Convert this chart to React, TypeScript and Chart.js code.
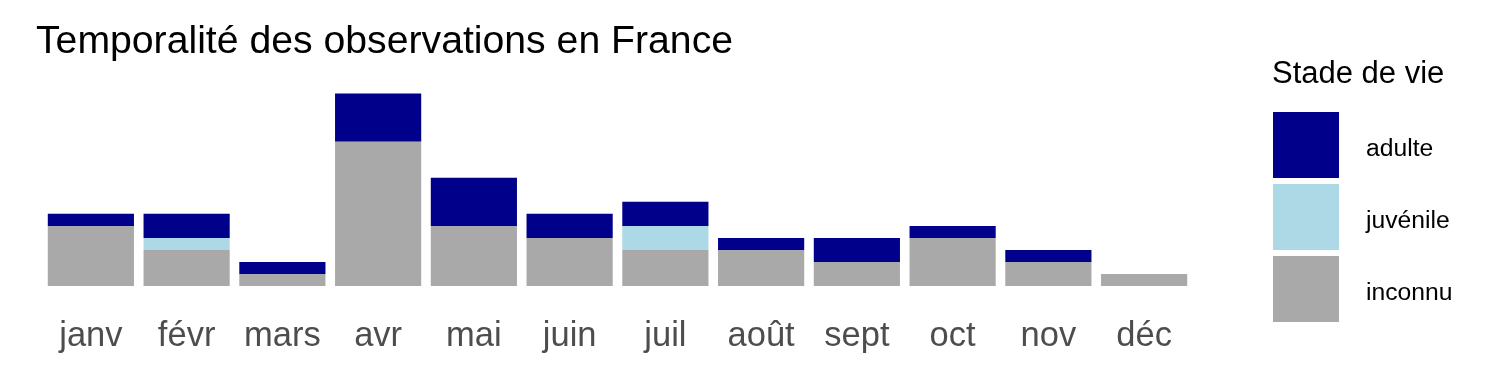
import React, { useEffect, useRef } from "react";
import { Chart, registerables } from "chart.js";
Chart.register(...registerables);

const months = ["janv", "févr", "mars", "avr", "mai", "juin", "juil", "août", "sept", "oct", "nov", "déc"];
const inconnu = [5, 3, 1, 12, 5, 4, 3, 3, 2, 4, 2, 1];
const juvenile = [0, 1, 0, 0, 0, 0, 2, 0, 0, 0, 0, 0];
const adulte = [1, 2, 1, 4, 4, 2, 2, 1, 2, 1, 1, 0];
const seriesLabels = ["inconnu", "juvénile", "adulte"];
const seriesColors = ["#A9A9A9", "#ADD8E6", "#00008B"];
const chartTitle = "Temporalité des observations en France";
const legendTitle = "Stade de vie";
const FONT = '"Liberation Sans", Arial, sans-serif';

const overlay = {
  id: "overlay",
  afterDraw(chart: any) {
    const ctx = chart.ctx;
    ctx.save();
    ctx.textAlign = "left";
    ctx.textBaseline = "alphabetic";
    ctx.fillStyle = "#000";
    ctx.font = `39.2px ${FONT}`;
    ctx.fillText(chartTitle, 36, 52.5);
    ctx.font = `31px ${FONT}`;
    ctx.fillText(legendTitle, 1272, 83);
    const ds = chart.data.datasets.slice().reverse();
    ds.forEach((d: any, i: number) => {
      const y = 112 + i * 72;
      ctx.fillStyle = d.backgroundColor;
      ctx.fillRect(1273, y, 66, 66);
      ctx.fillStyle = "#000";
      ctx.font = `24.7px ${FONT}`;
      ctx.fillText(d.label, 1366, y + 44);
    });
    ctx.restore();
  },
};

export default function App() {
  const ref = useRef<HTMLCanvasElement>(null);
  useEffect(() => {
    document.body.style.margin = "0";
    const chart = new Chart(ref.current as HTMLCanvasElement, {
      type: "bar",
      data: {
        labels: months,
        datasets: [inconnu, juvenile, adulte].map((vals, i) => ({
          label: seriesLabels[i],
          data: vals,
          backgroundColor: seriesColors[i],
          borderWidth: 0,
          barPercentage: 0.9,
          categoryPercentage: 1,
        })),
      },
      options: {
        animation: false,
        responsive: false,
        maintainAspectRatio: false,
        layout: { padding: { left: 43, right: 308, top: 84, bottom: 0 } },
        plugins: { legend: { display: false }, tooltip: { enabled: false }, title: { display: false } },
        scales: {
          x: {
            stacked: true,
            offset: true,
            grid: { display: false, drawTicks: false },
            border: { display: false },
            ticks: { color: "#4D4D4D", font: { family: FONT, size: 34.5 }, padding: 30 },
            afterFit: (scale: any) => {
              scale.height = 89;
            },
          },
          y: {
            stacked: true,
            display: false,
            min: 0,
            max: 16.8,
          },
        },
      },
      plugins: [overlay],
    });
    return () => chart.destroy();
  }, []);
  return (
    <div style={{ width: 1500, height: 375, background: "#fff" }}>
      <canvas ref={ref} width={1500} height={375} style={{ display: "block" }} />
    </div>
  );
}
